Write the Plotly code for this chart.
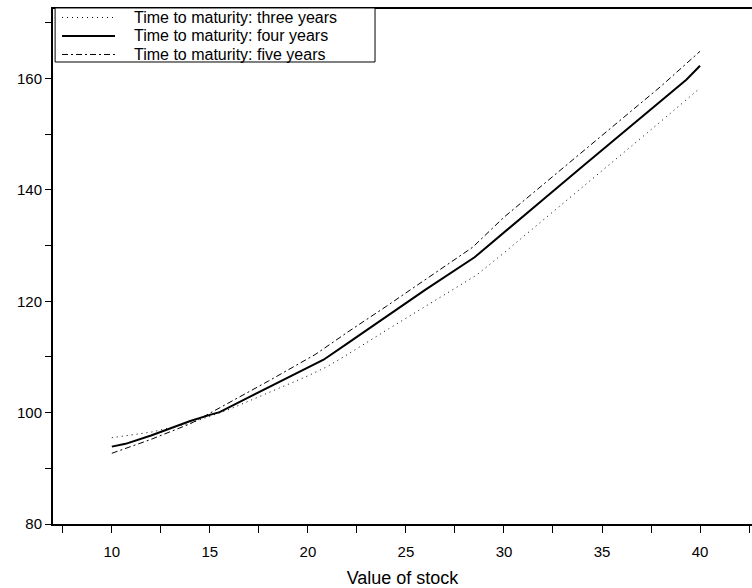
import plotly.graph_objects as go

# Value of stock (x) and option values for three maturities
x_three = [10, 12, 14, 15, 16, 18, 20, 21, 22, 24, 26, 28.6, 30, 32, 34, 36, 38, 40]
y_three = [95.5, 96.5, 98.1, 99.3, 100.6, 103.6, 106.6, 108.3, 110.4, 114.8, 119.1, 124.7,
           128.7, 134.6, 140.4, 146.3, 152.3, 158.3]

x_four = [10, 10.7, 12, 13, 14, 15, 15.5, 17, 19, 20.8, 22, 24, 26, 28.5, 30, 32, 34, 36, 38, 39.3, 40]
y_four = [93.9, 94.4, 95.9, 97.2, 98.5, 99.6, 100.1, 102.8, 106.3, 109.5, 112.4, 117.2, 122.1,
          127.9, 132.4, 138.3, 144.2, 150.1, 156.0, 159.8, 162.3]

x_five = [10, 11, 12, 13, 14, 15, 16, 18, 20.4, 22, 24, 26, 28.4, 30, 32, 34, 36, 38, 40]
y_five = [92.7, 93.9, 95.2, 96.6, 98.0, 99.9, 101.8, 105.7, 110.5, 114.4, 119.1, 123.9, 129.7,
          135.1, 141.0, 146.9, 152.7, 158.6, 164.9]

names = ["Time to maturity: three years", "Time to maturity: four years",
         "Time to maturity: five years"]

x_tickvals = [7.5, 10, 12.5, 15, 17.5, 20, 22.5, 25, 27.5, 30, 32.5, 35, 37.5, 40, 42.5]
x_ticktext = ["", "10", "", "15", "", "20", "", "25", "", "30", "", "35", "", "40", ""]
y_tickvals = [80, 90, 100, 110, 120, 130, 140, 150, 160, 170]
y_ticktext = ["80", "", "100", "", "120", "", "140", "", "160", ""]

FONT = "Liberation Sans, Arial, sans-serif"
dashes = ["1px,4px", "solid", "6px,3px,2px,3px"]
widths = [1, 2, 1]

fig = go.Figure()
for xs, ys, nm, dsh, w in zip([x_three, x_four, x_five], [y_three, y_four, y_five],
                              names, dashes, widths):
    fig.add_trace(go.Scatter(x=xs, y=ys, mode="lines", name=nm,
                             line=dict(color="black", width=w, dash=dsh)))

# Manual legend box (paper coordinates)
shapes = [dict(type="rect", xref="paper", yref="paper", x0=0.003, x1=0.4607,
               y0=0.8971, y1=1.002, line=dict(color="black", width=1),
               fillcolor="white", layer="above")]
annotations = []
row_y = [0.9835, 0.9476, 0.9117]
for ry, nm, dsh, w in zip(row_y, names, dashes, widths):
    shapes.append(dict(type="line", xref="paper", yref="paper", x0=0.0129, x1=0.0887,
                       y0=ry, y1=ry, line=dict(color="black", width=w, dash=dsh),
                       layer="above"))
    annotations.append(dict(xref="paper", yref="paper", x=0.1144, y=ry, text=nm,
                            showarrow=False, xanchor="left", yanchor="middle",
                            borderpad=0,
                            font=dict(size=16, color="black", family=FONT)))

fig.update_layout(
    width=752, height=588,
    margin=dict(l=53, r=0, t=9, b=64),
    paper_bgcolor="white", plot_bgcolor="white",
    font=dict(family=FONT, size=15, color="black"),
    showlegend=False,
    shapes=shapes, annotations=annotations,
    xaxis=dict(range=[7.0, 42.65], showgrid=False, zeroline=False,
               showline=True, linecolor="black", linewidth=2, mirror=True,
               tickmode="array", tickvals=x_tickvals, ticktext=x_ticktext,
               ticks="outside", ticklen=7, tickcolor="black", tickwidth=1,
               ticklabelstandoff=6,
               title=dict(text="Value of stock", standoff=12)),
    yaxis=dict(range=[80, 172.5], showgrid=False, zeroline=False,
               showline=True, linecolor="black", linewidth=2,
               tickmode="array", tickvals=y_tickvals, ticktext=y_ticktext,
               ticks="outside", ticklen=6, tickcolor="black", tickwidth=1),
)

fig.write_html("out.html", config={"displayModeBar": False},
               post_script="document.body.style.margin='0';"
                           "document.body.style.overflow='hidden';")
